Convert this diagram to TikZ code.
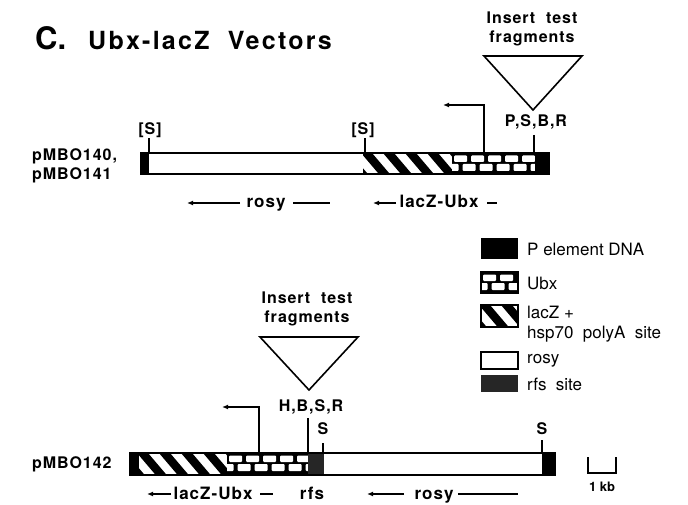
\documentclass[tikz,border=0pt]{standalone}
\usepackage{fontspec}
\setmainfont{TeX Gyre Heros}
\newfontfamily\wide[LetterSpace=6]{TeX Gyre Heros}
\newfontfamily\wider[LetterSpace=9]{TeX Gyre Heros}
\usetikzlibrary{arrows.meta,positioning,calc}

\newcommand\hatchfill[4]{%
  \begin{scope}
    \clip (#1,#2) rectangle (#3,#4);
    \fill[white] (#1,#2) rectangle (#3,#4);
    \foreach \k in {-2,...,5}
      \fill ({#1-2+\k*22},#2) -- ++(11,0) -- ++({0.85*(#4-#2)},{#4-#2}) -- ++(-11,0) -- cycle;
  \end{scope}}
\newcommand\brickfill[4]{%
  \begin{scope}
    \clip (#1,#2) rectangle (#3,#4);
    \fill (#1,#2) rectangle (#3,#4);
    \foreach \k in {-1,...,6}{
      \fill[white,rounded corners=1pt] ({#1+2+\k*17},{#2+2.5}) rectangle ++(13,6.5);
      \fill[white,rounded corners=1pt] ({#1-6.5+\k*17},{#2+11}) rectangle ++(13,7);}
  \end{scope}}

\begin{document}
\begin{tikzpicture}[x=1pt,y=-1pt,
  every node/.style={inner sep=0pt},
  lab/.style={font=\wide\bfseries\fontsize{16}{19}\selectfont},
  big/.style={font=\wide\bfseries\fontsize{17}{20}\selectfont,anchor=base},
  key/.style={font=\fontsize{17}{20}\selectfont,anchor=west,align=left},
  tick/.style={line width=1.4pt},
  rim/.style={draw,line width=1.8pt},
  larr/.style={line width=1.4pt,-{Latex[length=6pt,width=5pt]}},
  rule/.style={line width=1.2pt},
  tri/.style={draw,line width=1.6pt,line join=miter}]
\useasboundingbox (0,0) rectangle (688,505);

\node[font=\bfseries\fontsize{31}{34}\selectfont,anchor=base west] (c) at (35,50) {C.};
\node[font=\wider\bfseries\fontsize{25}{30}\selectfont,anchor=base west] (t) at (88,50) {Ubx-lacZ\ \ Vectors};

% pMBO140, pMBO141
\fill (141,153) rectangle (149,174);
\fill[white] (149,153) rectangle (363,174);
\hatchfill{363}{153}{452}{174}
\brickfill{452}{153}{535}{174}
\fill (535,153) rectangle (549,174);
\draw[rim] (141,153) rectangle (549,174);
\node[lab,anchor=west,align=left] (v1) at (32,166) {pMBO140,\\pMBO141};

\node[lab] (s1) at (150,130) {[S]};
\node[lab] (s2) at (363,130) {[S]};
\node[lab] (r1) at (536,122) {P,S,B,R};
\coordinate (s1b) at (149,153);
\coordinate (s2b) at (365,153);
\coordinate (r1t) at (534,135);
\coordinate (r1b) at (534,153);
\draw[tick] (s1b) -- (s1b |- s1.south);
\draw[tick] (s2b) -- (s2b |- s2.south);
\draw[tick] (r1t) -- (r1b);
\coordinate (pr1) at (484,153);
\coordinate (pr1e) at (443,105);
\draw[larr] (pr1) |- (pr1e);
\draw[tri] (484,56) -- (582,56) -- (533,110) -- cycle;
\node[lab,align=center] (ins1) at (532,29) {Insert\ \ test\\fragments};

\node[big] (ro1) at (266,208) {rosy};
\coordinate (ro1a) at (187,203);
\draw[larr] (240,203) -- (ro1a);
\draw[rule] (293,203) -- (330,203);
\node[big] (lu1) at (439,208) {lacZ-Ubx};
\coordinate (lu1a) at (373,203);
\draw[larr] (396,203) -- (lu1a);
\draw[rule] (487,203) -- (497,203);

% legend
\fill (481,238) rectangle (518,259);
\node[key] (k1) at (527,249) {P element DNA};
\brickfill{481}{272}{518}{293}
\draw[rim] (481,272) rectangle (518,293);
\node[key] (k2) at (527,283) {Ubx};
\hatchfill{481}{305}{518}{327}
\draw[rim] (481,305) rectangle (518,327);
\node[key] (k3) at (527,324) {lacZ +\\hsp70\ \ polyA\ \ site};
\draw[rim] (481,352) rectangle (518,369);
\node[key] (k4) at (527,361) {rosy};
\fill[black!85] (481,375) rectangle (518,392);
\node[key] (k5) at (527,384) {rfs\ \ site};

% pMBO142
\fill (130,453) rectangle (139,475);
\hatchfill{139}{453}{227}{475}
\brickfill{227}{453}{308}{475}
\fill[black!85] (308,453) rectangle (324,475);
\fill[white] (324,453) rectangle (542,475);
\fill (542,453) rectangle (555,475);
\draw[rim] (130,453) rectangle (555,475);
\node[lab,anchor=west] (v2) at (32,464) {pMBO142};

\node[lab] (h2) at (311,407) {H,B,S,R};
\node[lab] (s3) at (323,429) {S};
\node[lab] (s4) at (542,429) {S};
\coordinate (h2t) at (308,418);
\coordinate (h2b) at (308,453);
\coordinate (s3t) at (323,443);
\coordinate (s3b) at (323,453);
\coordinate (s4t) at (542,440);
\coordinate (s4b) at (542,453);
\draw[tick] (h2t) -- (h2b);
\draw[tick] (s3t) -- (s3b);
\draw[tick] (s4t) -- (s4b);
\coordinate (pr2) at (259,453);
\coordinate (pr2e) at (222,407);
\draw[larr] (pr2) |- (pr2e);
\draw[tri] (260,337) -- (358,337) -- (309,390) -- cycle;
\node[lab,align=center] (ins2) at (307,309) {Insert\ \ test\\fragments};

\node[big] (lu2) at (213,499) {lacZ-Ubx};
\coordinate (lu2a) at (147,494);
\draw[larr] (171,494) -- (lu2a);
\draw[rule] (260,494) -- (273,494);
\node[big] (rf2) at (312,499) {rfs};
\node[big] (ro2) at (434,499) {rosy};
\coordinate (ro2a) at (367,494);
\draw[larr] (404,494) -- (ro2a);
\draw[rule] (458,494) -- (518,494);

\draw[line width=1.3pt] (588,457) -- (588,473) -- (616,473) -- (616,457);
\node[font=\bfseries\fontsize{13}{15}\selectfont] (kb) at (602,487) {1 kb};
\end{tikzpicture}
\end{document}
